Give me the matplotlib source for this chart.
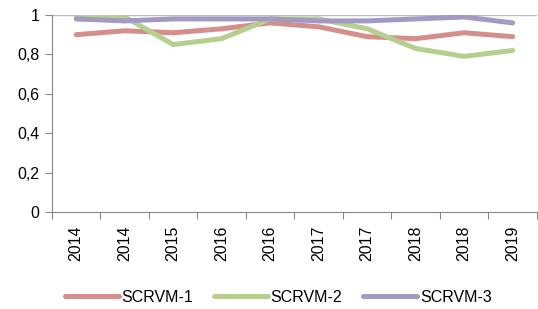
import numpy as np
import matplotlib
import matplotlib.pyplot as plt

matplotlib.rc('font', family=['Liberation Sans', 'DejaVu Sans'], size=11.5)

# data
years = ['2014', '2014', '2015', '2016', '2016', '2017', '2017', '2018', '2018', '2019']
scrvm1 = [0.90, 0.92, 0.91, 0.93, 0.96, 0.94, 0.89, 0.88, 0.91, 0.89]
scrvm2 = [0.99, 0.99, 0.85, 0.88, 0.98, 0.98, 0.93, 0.83, 0.79, 0.82]
scrvm3 = [0.98, 0.97, 0.98, 0.98, 0.98, 0.97, 0.97, 0.98, 0.99, 0.96]
names = ['SCRVM-1', 'SCRVM-2', 'SCRVM-3']
colors = ['#D48F8C', '#B5CF8E', '#A39AC4']

fig = plt.figure(figsize=(5.38, 3.09), dpi=100)
ax = fig.add_axes([52/538, 1-212/309, 1-52/538-0.002, (212-15)/309])

x = np.arange(len(years))
for vals, name, c in zip([scrvm1, scrvm2, scrvm3], names, colors):
    ax.plot(x, vals, color=c, lw=3.6, label=name, solid_capstyle='round')

# axes and ticks
ax.set_xlim(-0.5, len(years) - 0.5)
ax.set_ylim(0, 1)
ax.set_yticks([0, 0.2, 0.4, 0.6, 0.8, 1])
ax.set_yticklabels(['0', '0,2', '0,4', '0,6', '0,8', '1'])
ax.axhline(1, color='#BBBBBB', lw=1, zorder=0)

ax.set_xticks(np.arange(len(years) + 1) - 0.5)
ax.set_xticklabels([])
ax.set_xticks(x, minor=True)
ax.set_xticklabels(years, minor=True, rotation=90)
ax.tick_params(axis='x', which='major', length=5, color='#888888', direction='out')
ax.tick_params(axis='x', which='minor', length=0, pad=10)
ax.tick_params(axis='y', length=5, color='#888888', direction='out', pad=4)

for s in ['top', 'right']:
    ax.spines[s].set_visible(False)
for s in ['left', 'bottom']:
    ax.spines[s].set_color('#888888')

# legend below
fig.legend(loc='center', bbox_to_anchor=(0.517, 1-297/309), ncol=3, frameon=False,
           handlelength=3.4, handletextpad=0.15, columnspacing=1.3, fontsize=11.5)

plt.savefig('out.png', dpi=100)
